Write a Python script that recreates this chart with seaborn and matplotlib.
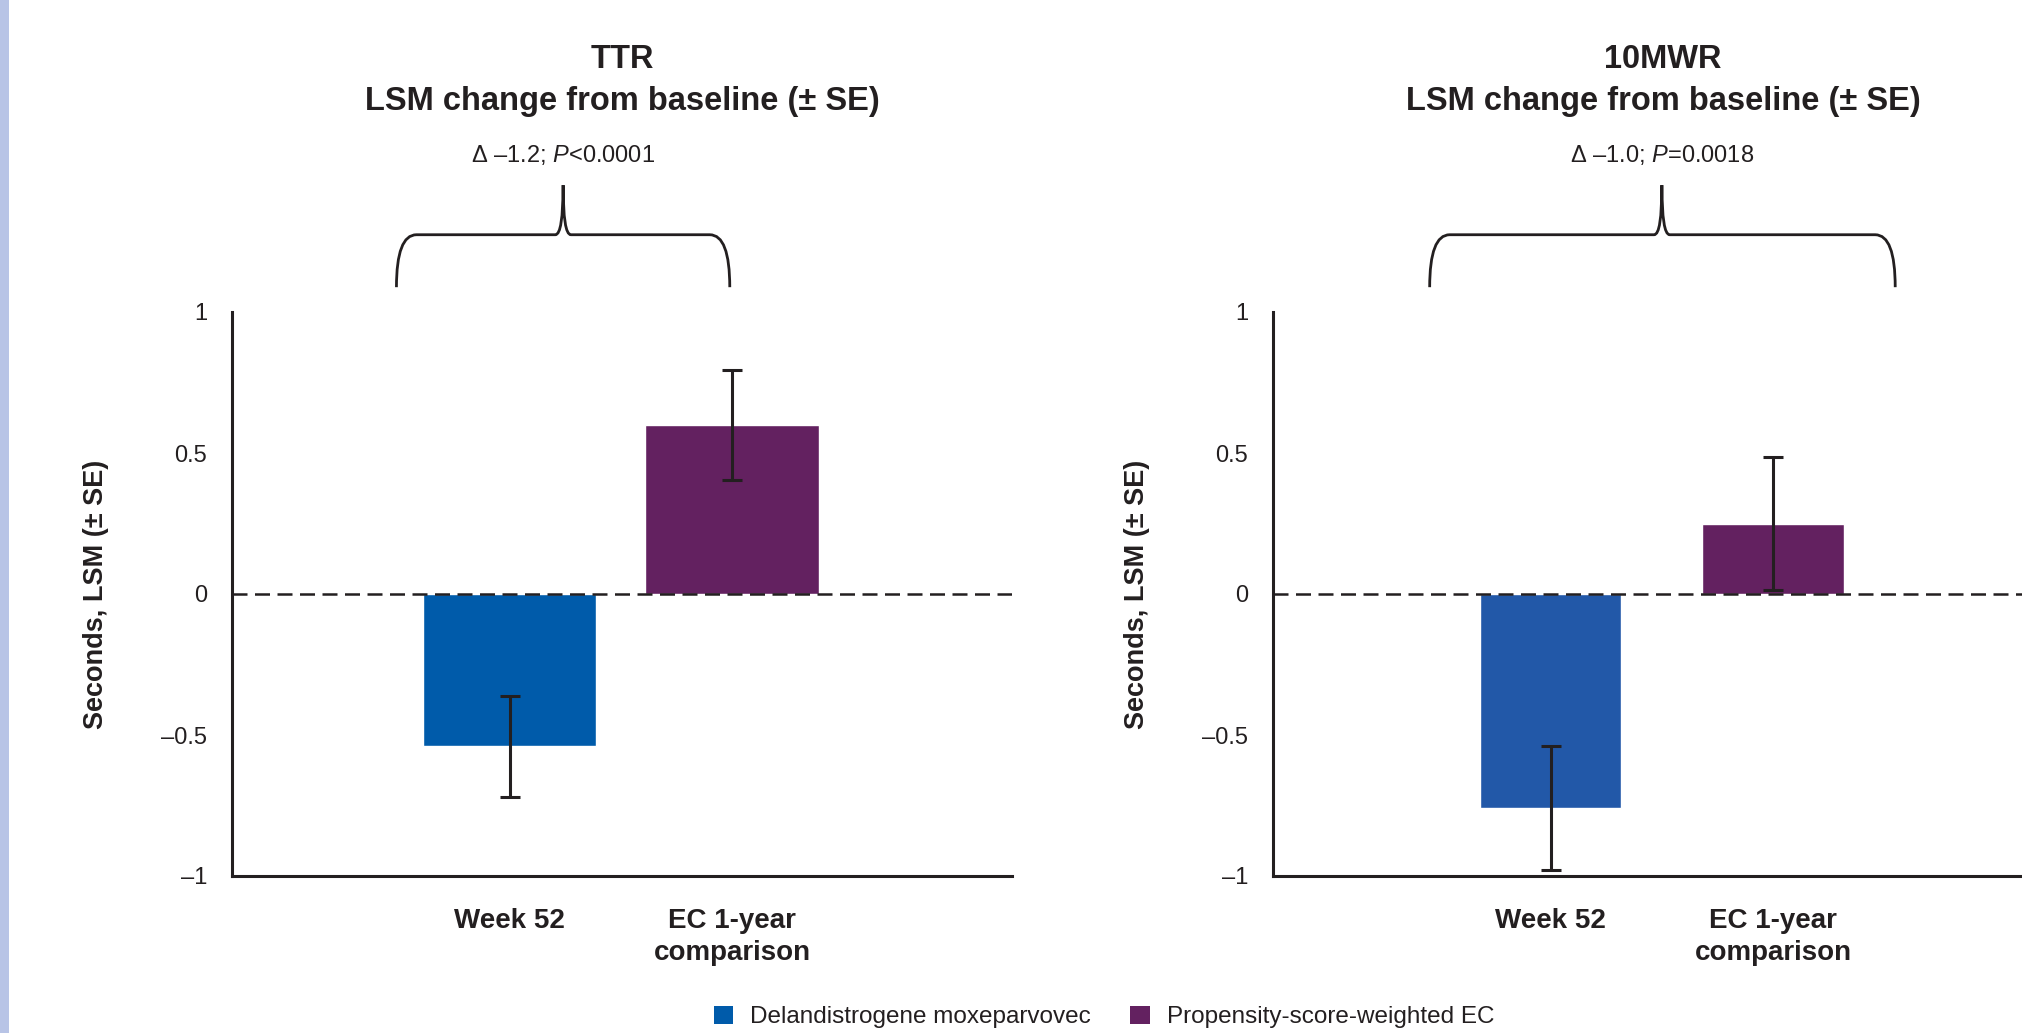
import numpy as np
import pandas as pd
import seaborn as sns
import matplotlib.pyplot as plt
from matplotlib.path import Path
from matplotlib.patches import PathPatch, Patch, Rectangle
from matplotlib.transforms import blended_transform_factory

# data
categories = ["Week 52", "EC 1-year\ncomparison"]
groups = ["Delandistrogene moxeparvovec", "Propensity-score-weighted EC"]
ttr_lsm = [-0.54, 0.60]
ttr_se = [0.18, 0.195]
mwr_lsm = [-0.76, 0.25]
mwr_se = [0.22, 0.235]
yticks = [-1, -0.5, 0, 0.5, 1]
ytick_labels = ["\u20131", "\u20130.5", "0", "0.5", "1"]

sns.set_theme(style="white")
plt.rcParams["font.family"] = ["Liberation Sans", "DejaVu Sans"]
plt.rcParams["mathtext.fontset"] = "custom"
plt.rcParams["mathtext.rm"] = "Liberation Sans"
plt.rcParams["mathtext.it"] = "Liberation Sans:italic"

INK = "#231F20"

panels = [
    dict(name="TTR", lsm=ttr_lsm, se=ttr_se, colors=["#005BAA", "#632160"],
         width=0.78, note="\u0394 \u20131.2; $\\mathit{P}$<0.0001",
         brace=(-0.51, 0.24, 0.99), left=232),
    dict(name="10MWR", lsm=mwr_lsm, se=mwr_se, colors=["#2258A8", "#632160"],
         width=0.635, note="\u0394 \u20131.0; $\\mathit{P}$=0.0018",
         brace=(-0.545, 0.5, 1.55), left=1273),
]

W, H = 2022, 1033
fig = plt.figure(figsize=(W / 100, H / 100), dpi=100)
fig.add_artist(Rectangle((0, 0), 9 / W, 1, transform=fig.transFigure,
                         color="#B8C4E6", lw=0))


def draw_brace(ax, x0, xp, x1):
    tr = blended_transform_factory(ax.transData, ax.transAxes)
    yb, yh, yp = 1.044, 1.137, 1.225
    dx, dx2 = 0.09, 0.035
    verts = [(x0, yb), (x0, yh), (x0 + dx, yh),
             (xp - dx2, yh), (xp, yh), (xp, yp),
             (xp, yh), (xp + dx2, yh),
             (x1 - dx, yh), (x1, yh), (x1, yb)]
    codes = [Path.MOVETO, Path.CURVE3, Path.CURVE3,
             Path.LINETO, Path.CURVE3, Path.CURVE3,
             Path.CURVE3, Path.CURVE3,
             Path.LINETO, Path.CURVE3, Path.CURVE3]
    ax.add_patch(PathPatch(Path(verts, codes), fill=False, ec=INK, lw=2.0,
                           transform=tr, clip_on=False))


for p in panels:
    ax = fig.add_axes([p["left"] / W, 1 - 876 / H, 780 / W, 564 / H])
    df = pd.DataFrame({"Timepoint": categories, "LSM": p["lsm"], "Group": groups})
    sns.barplot(data=df, x="Timepoint", y="LSM", hue="Group",
                palette=dict(zip(groups, p["colors"])), dodge=False,
                saturation=1, width=p["width"], legend=False, ax=ax, zorder=2)
    xs = np.arange(len(categories))
    ax.axhline(0, color=INK, lw=1.8, ls=(0, (6, 3)), zorder=3)
    ax.errorbar(xs, p["lsm"], yerr=p["se"], fmt="none", ecolor=INK,
                elinewidth=2.2, capsize=7.5, capthick=2.2, zorder=4)

    ax.set_xlim(-1.25, 2.26)
    ax.set_ylim(-1, 1)
    ax.set_yticks(yticks)
    ax.set_yticklabels(ytick_labels, fontsize=17, color=INK)
    ax.set_xticks(xs)
    ax.set_xticklabels(categories, fontsize=20, fontweight="bold", color=INK,
                       linespacing=1.3)
    ax.tick_params(axis="y", length=0, pad=18)
    ax.tick_params(axis="x", length=0, pad=23)
    ax.set_xlabel("")
    ax.set_ylabel("Seconds, LSM (\u00b1 SE)", fontsize=19.5, fontweight="bold",
                  color=INK)
    ax.yaxis.set_label_coords(-0.158, 0.5)
    for side in ["top", "right"]:
        ax.spines[side].set_visible(False)
    for side in ["left", "bottom"]:
        ax.spines[side].set_color(INK)
        ax.spines[side].set_linewidth(2.2)

    ax.text(0.5, 1.447, p["name"], transform=ax.transAxes, ha="center",
            va="center", fontsize=23.5, fontweight="bold", color=INK)
    ax.text(0.5, 1.374, "LSM change from baseline (\u00b1 SE)",
            transform=ax.transAxes, ha="center", va="center", fontsize=23.5,
            fontweight="bold", color=INK)

    x0, xp, x1 = p["brace"]
    draw_brace(ax, x0, xp, x1)
    tr = blended_transform_factory(ax.transData, ax.transAxes)
    ax.text(xp, 1.279, p["note"], transform=tr, ha="center", va="center",
            fontsize=17, color=INK)

handles = [Patch(facecolor=c, edgecolor="none") for c in panels[0]["colors"]]
fig.legend(handles, groups, loc="center", bbox_to_anchor=(0.546, 0.0155),
           ncol=2, frameon=False, fontsize=17.5, handlelength=0.8,
           handleheight=0.8, handletextpad=0.7, columnspacing=1.6,
           labelcolor=INK)

fig.savefig("out.png", dpi=100)
